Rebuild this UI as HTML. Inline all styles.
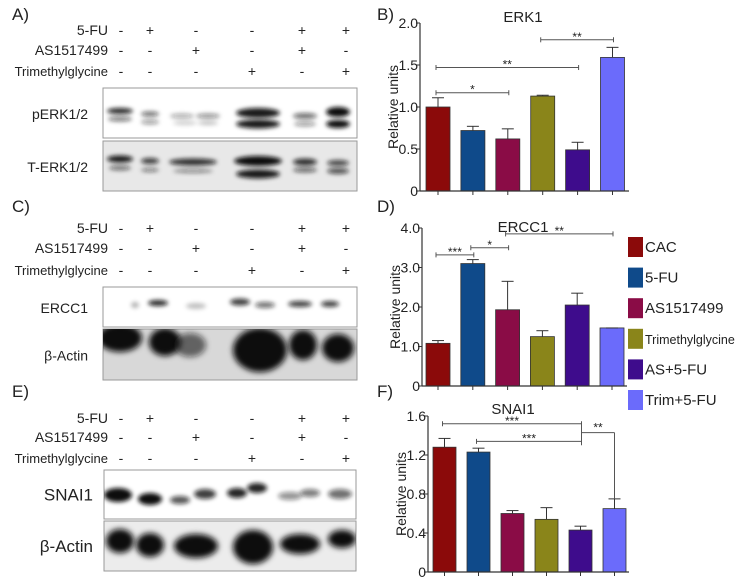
<!DOCTYPE html>
<html><head><meta charset="utf-8">
<style>
body{margin:0;background:#fff;width:741px;height:586px;overflow:hidden;font-family:"Liberation Sans",Arial,sans-serif;}
svg{position:absolute;left:0;top:0}
text{font-family:"Liberation Sans",Arial,sans-serif;fill:#222}
</style></head>
<body>
<svg id="fig" width="741" height="586" viewBox="0 0 741 586">
<defs>
<filter id="b2" x="-50%" y="-100%" width="200%" height="300%"><feGaussianBlur stdDeviation="2.2"/></filter>
<filter id="b3" x="-50%" y="-100%" width="200%" height="300%"><feGaussianBlur stdDeviation="3"/></filter>
</defs>
</svg>
<script>
const NS='http://www.w3.org/2000/svg';
const svg=document.getElementById('fig');
function mk(tag,attrs,parent){const e=document.createElementNS(NS,tag);for(const k in attrs)e.setAttribute(k,attrs[k]);(parent||svg).appendChild(e);return e;}
function txt(x,y,s,size,anchor,parent){const t=mk('text',{x:x,y:y,'font-size':size,'text-anchor':anchor||'start'},parent);t.textContent=s;return t;}

const groups=['CAC','5-FU','AS1517499','Trimethylglycine','AS+5-FU','Trim+5-FU'];
const colors=['#8b0a0a','#0f4a8a','#8a0c46','#8a851a','#3e0c8c','#6b6bfb'];
const fuRow=['-','+','-','-','+','+'];
const asRow=['-','-','+','-','+','-'];
const trRow=['-','-','-','+','-','+'];
const laneX=[121,150,196,252,302,346];

const erkValues=[1.0,0.72,0.62,1.13,0.49,1.59];
const erkErrors=[0.11,0.05,0.12,0.01,0.09,0.12];
const erkTicks=[0,0.5,1.0,1.5,2.0];
const erkTickLabels=['0','0.5','1.0','1.5','2.0'];
const erkSig=[[0,2,'*',1.17],[0,4,'**',1.47],[3,5,'**',1.8]];

const erccValues=[1.08,3.1,1.93,1.25,2.05,1.47];
const erccErrors=[0.07,0.1,0.72,0.15,0.3,0.0];
const erccTicks=[0,1,2,3,4];
const erccTickLabels=['0','1.0','2.0','3.0','4.0'];
const erccSig=[[0,1,'***',3.32],[1,2,'*',3.5],[2,5,'**',3.85]];

const snaValues=[1.28,1.23,0.6,0.54,0.43,0.65];
const snaErrors=[0.09,0.04,0.03,0.12,0.04,0.1];
const snaTicks=[0,0.4,0.8,1.2,1.6];
const snaTickLabels=['0','0.4','0.8','1.2','1.6'];
const snaSig=[[0,4,'***',1.52],[1,4,'***',1.34]];

function treatment(panel,letter,ly,rowY){
  const g=mk('g',{});
  
  
  const L=txt(12,ly,letter+')',17,'start',g);
  
  
  const rows=[['5-FU',fuRow],['AS1517499',asRow],['Trimethylglycine',trRow]];
  rows.forEach((r,i)=>{
    const t=txt(108,rowY[i]+5,r[0],i==2?13:14,'end',g);
    
    
    r[1].forEach((s,j)=>{const m=txt(laneX[j],rowY[i]+5,s,14,'middle',g);
      
      });
  });
}

function blot(panel,x0,y0,x1,y1,bg,label,labelX,labelSize,bands){
  const g=mk('g',{});
  
  
  mk('rect',{x:x0,y:y0,width:x1-x0,height:y1-y0,fill:bg,stroke:'#999','stroke-width':1},g);
  const cl=mk('clipPath',{id:'c'+panel},g);
  mk('rect',{x:x0,y:y0,width:x1-x0,height:y1-y0},cl);
  const bg2=mk('g',{'clip-path':'url(#c'+panel+')'},g);
  bands.forEach(b=>{mk('ellipse',{cx:b[0],cy:b[1],rx:b[2],ry:b[3],fill:'#111','fill-opacity':b[4],filter:'url(#'+(b[5]||'b2')+')'},bg2);});
  const t=txt(labelX,(y0+y1)/2+6,label,labelSize,'end',g);
  
  
}

treatment('a','A',20,[30,50,71]);
blot('perk',103,88,357,138,'#fff','pERK1/2',88,14,[
 [120,111,13,3,0.9],[120,119,12,2.5,0.55],[150,114,9,2.5,0.6],[150,122,9,2.5,0.4],
 [182,116,12,2.5,0.35],[208,116,12,2.5,0.45],[185,123,12,2,0.2],[208,123,10,2,0.25],
 [258,113,22,5,0.95],[258,124,22,4.5,0.95],[305,116,12,3,0.6],[305,124,11,2.5,0.4],
 [338,112,12,5,1],[338,124,12,4,1]]);
blot('terk',103,141,357,191,'#e8e8e8','T-ERK1/2',88,14,[
 [120,159,13,3.5,0.95],[120,168,11,2.5,0.55],[150,161,9,3,0.8],[150,170,9,2,0.5],
 [193,162,24,3.5,0.85],[193,171,20,2,0.45],[258,161,24,5,1],[258,174,22,4.5,0.95],
 [305,162,12,3.5,0.85],[305,170,12,2.5,0.6],[338,163,11,3,0.75],[338,171,11,3,0.7]]);
treatment('c','C',212,[228,248,270]);
blot('ercc1',103,287,357,327,'#fff','ERCC1',88,14,[
 [135,305,4,3,0.3],[158,303,10,3,0.9],[196,306,10,3,0.25],[240,302,10,3.5,0.8],[265,305,10,3,0.6],
 [300,304,12,3,0.8],[330,304,9,3,0.8]]);
blot('actin-c',103,329,357,380,'#d8d8d8','β-Actin',88,14,[
 [120,338,22,14,1,'b3'],[165,342,16,14,1,'b3'],[190,345,16,12,0.6,'b3'],[260,350,27,22,1,'b3'],
 [303,345,14,15,1,'b3'],[338,348,16,14,1,'b3']]);
treatment('e','E',397,[418,437,458]);
blot('snai1',104,470,356,519,'#fff','SNAI1',93,17,[
 [118,495,14,7,1],[150,499,12,6,1],[180,500,10,4,0.7],[205,494,11,5,0.8],[237,493,10,5,0.9],
 [257,488,10,5,0.9],[290,496,12,4,0.45],[310,493,10,4,0.55],[340,494,12,5,0.6]]);
blot('actin-e',104,521,356,571,'#ececec','β-Actin',93,17,[
 [120,541,14,12,1,'b3'],[150,545,14,12,1,'b3'],[196,546,22,12,1,'b3'],[253,547,20,17,1,'b3'],
 [300,544,20,10,1,'b3'],[342,539,14,9,1,'b3']]);

function barChart(panel,letter,opts,values,errors,ticks,tickLabels,sigs,title){
  const g=mk('g',{});
  
  
  const ymax=ticks[ticks.length-1];
  const yS=v=>opts.y0-(v/ymax)*(opts.y0-opts.yTop);
  const xS=i=>opts.first+i*opts.step;
  const L=txt(377,opts.letterY,letter+')',17,'start',g);
  
  
  const T=txt(opts.titleX,opts.titleY,title,15,'middle',g);
  
  
  const yl=txt(0,0,'Relative units',14,'middle',g);
  yl.setAttribute('transform','translate('+(opts.ax-22)+','+((opts.y0+opts.yTop)/2)+') rotate(-90)');
  
  
  values.forEach((v,i)=>{
    const cx=xS(i),top=yS(v);
    const r=mk('rect',{x:cx-opts.bw/2,y:top,width:opts.bw,height:opts.y0-top,fill:colors[i],stroke:'#333','stroke-width':0.8},g);
    
    
    const et=yS(v+errors[i]);
    mk('line',{x1:cx,y1:top,x2:cx,y2:et,stroke:'#333','stroke-width':1},g);
    mk('line',{x1:cx-6,y1:et,x2:cx+6,y2:et,stroke:'#333','stroke-width':1},g);
    mk('line',{x1:cx,y1:opts.y0,x2:cx,y2:opts.y0+4,stroke:'#333','stroke-width':1},g);
  });
  const ax=mk('g',{},g);
  
  
  mk('line',{x1:opts.ax,y1:opts.yTop,x2:opts.ax,y2:opts.y0,stroke:'#333','stroke-width':1.2},ax);
  mk('line',{x1:opts.ax,y1:opts.y0,x2:opts.axEnd,y2:opts.y0,stroke:'#333','stroke-width':1.2},ax);
  ticks.forEach((t,i)=>{const y=yS(t);
    mk('line',{x1:opts.ax-4,y1:y,x2:opts.ax,y2:y,stroke:'#333','stroke-width':1},ax);
    const tl=txt(opts.ax-2,y+5,tickLabels[i],14,'end',ax);
    
    });
  sigs.forEach(s=>{
    const y=yS(s[3]),xa=xS(s[0])-2,xb=xS(s[1])+1;
    const sg=mk('g',{},g);
    
    
    mk('line',{x1:xa,y1:y,x2:xb,y2:y,stroke:'#555','stroke-width':1},sg);
    mk('line',{x1:xa,y1:y-2.5,x2:xa,y2:y+2.5,stroke:'#555','stroke-width':1},sg);
    mk('line',{x1:xb,y1:y-2.5,x2:xb,y2:y+2.5,stroke:'#555','stroke-width':1},sg);
    txt((xa+xb)/2,y+1,s[2],12,'middle',sg);
  });
  return {xS,yS,g};
}

barChart('erk','B',{y0:191,yTop:23,ax:420,axEnd:629,first:438,step:34.9,bw:24,titleX:523,titleY:22,letterY:20},erkValues,erkErrors,erkTicks,erkTickLabels,erkSig,'ERK1');
barChart('ercc1','D',{y0:386,yTop:228,ax:422,axEnd:627,first:438,step:34.8,bw:24,titleX:523,titleY:232,letterY:212},erccValues,erccErrors,erccTicks,erccTickLabels,erccSig,'ERCC1');
const snaChart=barChart('snai1','F',{y0:572,yTop:416,ax:428,axEnd:629,first:444.5,step:34,bw:23,titleX:513,titleY:414,letterY:397},snaValues,snaErrors,snaTicks,snaTickLabels,snaSig,'SNAI1');
(function(){
  const s=snaChart, xa=s.xS(4)+1, xb=s.xS(5), y=s.yS(1.43), yb=s.yS(snaValues[5]+snaErrors[5]);
  const g=mk('g',{},s.g);
  
  
  mk('line',{x1:xa,y1:s.yS(1.52),x2:xa,y2:s.yS(1.3),stroke:'#555','stroke-width':1},g);
  mk('line',{x1:xa,y1:y,x2:xb,y2:y,stroke:'#555','stroke-width':1},g);
  mk('line',{x1:xb,y1:y,x2:xb,y2:yb,stroke:'#555','stroke-width':1},g);
  txt((xa+xb)/2,y-1,'**',12,'middle',g);
})();

const lg=mk('g',{});


groups.forEach((n,i)=>{
  const y=237+i*30.6;
  const e=mk('g',{},lg);
  
  
  mk('rect',{x:628,y:y,width:15,height:20,fill:colors[i]},e);
  txt(645,y+15,n,n==='Trimethylglycine'?12.5:15,'start',e);
});
</script>
</body></html>
